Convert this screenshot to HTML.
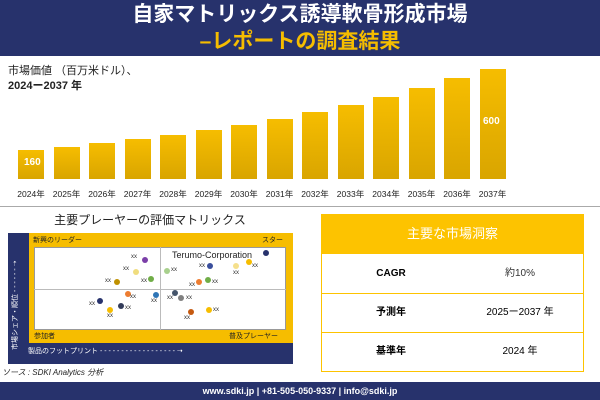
<!DOCTYPE html>
<html><head><meta charset="utf-8"><style>
body{margin:0;width:600px;height:400px;overflow:hidden;background:#fff;font-family:"Liberation Sans","Noto Sans CJK JP",sans-serif;position:relative}
.a{position:absolute}
.bar{position:absolute;width:26px;background:linear-gradient(#f6bd00,#d9a500)}
.yr{position:absolute;top:188px;font-size:8.5px;width:36px;text-align:center;color:#222}
.dot{position:absolute;width:6px;height:6px;border-radius:50%}
.xx{position:absolute;font-size:6px;color:#333}
</style></head><body>
<div class="a" style="left:0;top:0;width:600px;height:56px;background:#27326c"></div>
<div class="a" style="left:0;top:2px;width:600px;text-align:center;color:#fff;font-size:21px;font-weight:bold;line-height:26px">自家マトリックス誘導軟骨形成市場</div>
<div class="a" style="left:0;top:29px;width:600px;text-align:center;color:#f5bd00;font-size:21px;font-weight:bold;line-height:26px">–レポートの調査結果</div>
<div class="a" style="left:8px;top:64px;font-size:11px;color:#222;line-height:15px">市場価値 （百万米ドル）、<br><b>2024ー2037 年</b></div>
<div id="bars"></div>
<script>
var tops=[150,147,143,139,135,130,125,119,112,105,97,88,78,69];var h='';
for(var i=0;i<14;i++){var x=18+i*35.5;h+='<div class="bar" style="left:'+x+'px;top:'+tops[i]+'px;height:'+(179-tops[i])+'px"></div><div class="yr" style="left:'+(x-5)+'px">'+(2024+i)+'年</div>';}
document.getElementById('bars').innerHTML=h;
</script>
<div class="a" style="left:24px;top:157px;color:#fff;font-size:10px;font-weight:bold">160</div>
<div class="a" style="left:483px;top:116px;color:#fff;font-size:10px;font-weight:bold">600</div>
<div class="a" style="left:0;top:206px;width:600px;height:1px;background:#aaa"></div>
<div class="a" style="left:0;top:211px;width:300px;text-align:center;font-size:12px;color:#222">主要プレーヤーの評価マトリックス</div>
<div class="a" style="left:8px;top:233px;width:285px;height:131px;background:#27326c"></div>
<div class="a" style="left:29px;top:233px;width:264px;height:110px;background:#f6bd00"></div>
<div class="a" style="left:34px;top:247px;width:252px;height:83px;background:#fff;border:1px solid #999;box-sizing:border-box"></div>
<div class="a" style="left:160px;top:247px;width:1px;height:83px;background:#bbb"></div>
<div class="a" style="left:34px;top:289px;width:252px;height:1px;background:#bbb"></div>
<div class="a" style="left:33px;top:235px;font-size:7px;color:#222">新興のリーダー</div>
<div class="a" style="left:262px;top:235px;font-size:7px;color:#222">スター</div>
<div class="a" style="left:34px;top:331px;font-size:7px;color:#222">参加者</div>
<div class="a" style="left:229px;top:331px;font-size:7px;color:#222">普及プレーヤー</div>
<div class="a" style="left:28px;top:346px;font-size:7px;color:#fff">製品のフットプリント - - - - - - - - - - - - - - - - - - ➝</div>
<div class="a" style="left:10px;top:350px;font-size:7px;color:#fff;transform:rotate(-90deg);transform-origin:0 0;white-space:nowrap">市場シェア・順位 - - - - - - ➝</div>
<div class="a" style="left:172px;top:250px;font-size:9px;color:#222">Terumo-Corporation</div>
<div class="dot" style="left:263px;top:250px;background:#27326c"></div>
<div class="dot" style="left:246px;top:259px;background:#f6bd00"></div>
<div class="dot" style="left:233px;top:263px;background:#f5e08c"></div>
<div class="dot" style="left:207px;top:263px;background:#3a4f9c"></div>
<div class="dot" style="left:142px;top:257px;background:#7b3fa8"></div>
<div class="dot" style="left:133px;top:269px;background:#f0dd7e"></div>
<div class="dot" style="left:164px;top:268px;background:#a8d08d"></div>
<div class="dot" style="left:148px;top:276px;background:#70ad47"></div>
<div class="dot" style="left:114px;top:279px;background:#bf9000"></div>
<div class="dot" style="left:196px;top:279px;background:#ed7d31"></div>
<div class="dot" style="left:205px;top:277px;background:#70ad47"></div>
<div class="dot" style="left:125px;top:291px;background:#ed7d31"></div>
<div class="dot" style="left:153px;top:292px;background:#2e75b6"></div>
<div class="dot" style="left:172px;top:290px;background:#44546a"></div>
<div class="dot" style="left:178px;top:295px;background:#808080"></div>
<div class="dot" style="left:97px;top:298px;background:#27326c"></div>
<div class="dot" style="left:118px;top:303px;background:#333c5a"></div>
<div class="dot" style="left:107px;top:307px;background:#f6bd00"></div>
<div class="dot" style="left:188px;top:309px;background:#c55a11"></div>
<div class="dot" style="left:206px;top:307px;background:#f6bd00"></div>
<div class="xx" style="left:131px;top:254px">xx</div><div class="xx" style="left:123px;top:266px">xx</div>
<div class="xx" style="left:105px;top:278px">xx</div><div class="xx" style="left:141px;top:278px">xx</div>
<div class="xx" style="left:199px;top:263px">xx</div><div class="xx" style="left:233px;top:270px">xx</div>
<div class="xx" style="left:252px;top:263px">xx</div><div class="xx" style="left:171px;top:267px">xx</div>
<div class="xx" style="left:189px;top:282px">xx</div><div class="xx" style="left:212px;top:279px">xx</div>
<div class="xx" style="left:130px;top:294px">xx</div><div class="xx" style="left:151px;top:298px">xx</div>
<div class="xx" style="left:167px;top:295px">xx</div><div class="xx" style="left:186px;top:295px">xx</div>
<div class="xx" style="left:89px;top:301px">xx</div><div class="xx" style="left:125px;top:305px">xx</div>
<div class="xx" style="left:107px;top:313px">xx</div><div class="xx" style="left:213px;top:307px">xx</div>
<div class="xx" style="left:184px;top:315px">xx</div>
<div class="a" style="left:2px;top:367px;font-size:8px;font-style:italic;color:#222">ソース : SDKI Analytics 分析</div>
<div class="a" style="left:321px;top:214px;width:263px;height:40px;background:#fdc300;color:#fff;font-size:13px;text-align:center;line-height:40px">主要な市場洞察</div>
<div class="a" style="left:321px;top:254px;width:261px;height:117px;border:1px solid #fdc300;border-top:none"></div>
<div class="a" style="left:321px;top:293px;width:263px;height:1px;background:#fdc300"></div>
<div class="a" style="left:321px;top:332px;width:263px;height:1px;background:#fdc300"></div>
<div class="a" style="left:351px;top:267px;width:80px;text-align:center;font-size:10px;font-weight:bold;line-height:14px">CAGR</div>
<div class="a" style="left:480px;top:267px;width:80px;text-align:center;font-size:10px;color:#333;line-height:14px">約10%</div>
<div class="a" style="left:351px;top:306px;width:80px;text-align:center;font-size:10px;font-weight:bold;line-height:14px">予測年</div>
<div class="a" style="left:470px;top:306px;width:100px;text-align:center;font-size:10px;line-height:14px">2025ー2037 年</div>
<div class="a" style="left:351px;top:345px;width:80px;text-align:center;font-size:10px;font-weight:bold;line-height:14px">基準年</div>
<div class="a" style="left:480px;top:345px;width:80px;text-align:center;font-size:10px;line-height:14px">2024 年</div>
<div class="a" style="left:0;top:382px;width:600px;height:18px;background:#27326c;color:#fff;font-size:9px;font-weight:bold;text-align:center;line-height:18px">www.sdki.jp | +81-505-050-9337 | info@sdki.jp</div>
</body></html>
